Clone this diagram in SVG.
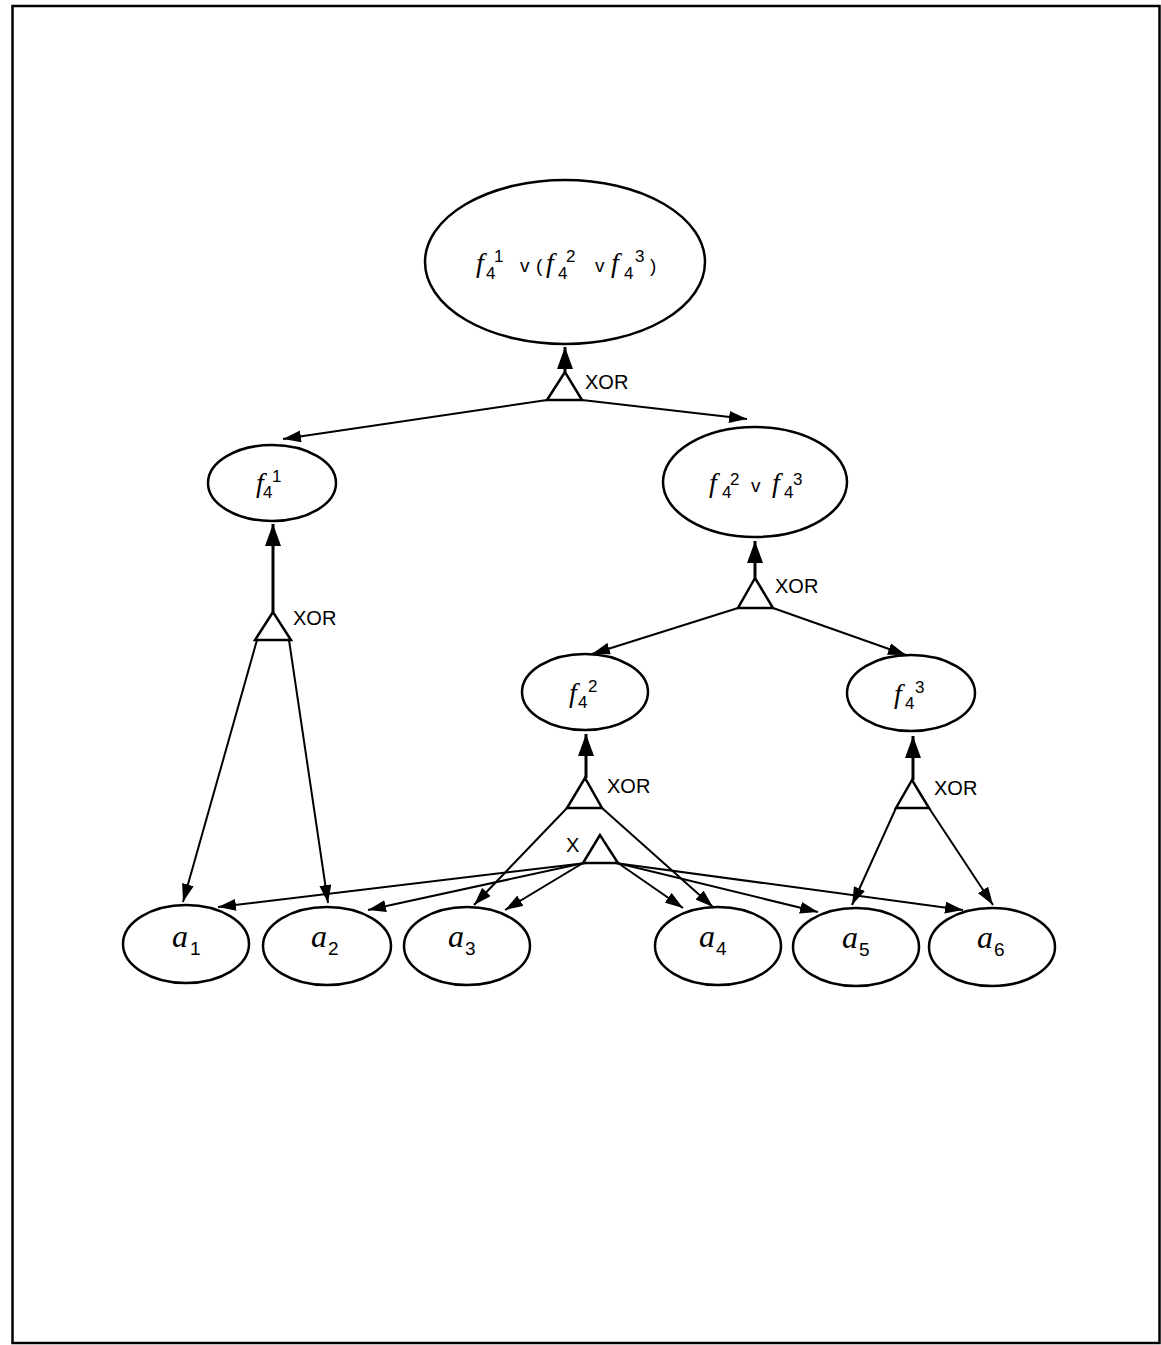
<svg xmlns="http://www.w3.org/2000/svg" width="1161" height="1345" viewBox="0 0 1161 1345">
<style>
.node{fill:#fff;stroke:#000;stroke-width:2.5}
.gate{fill:#fff;stroke:#000;stroke-width:2.5;stroke-linejoin:miter}
.edge{fill:none;stroke:#000;stroke-width:2}
.up{fill:none;stroke:#000;stroke-width:3}
.it{font-family:"Liberation Serif",serif;font-style:italic;fill:#000}
.num{font-family:"Liberation Sans",sans-serif;fill:#000}
.lbl{font-family:"Liberation Sans",sans-serif;font-size:20px;fill:#000}
</style>
<defs>
<marker id="ah" markerUnits="userSpaceOnUse" markerWidth="18" markerHeight="12" refX="18" refY="6" orient="auto">
<path d="M0,0 L18,6 L0,12 z" fill="#000"/>
</marker>
<marker id="ahu" markerUnits="userSpaceOnUse" markerWidth="22" markerHeight="16" refX="22" refY="8" orient="auto">
<path d="M0,0 L22,8 L0,16 z" fill="#000"/>
</marker>
</defs>
<rect x="12.5" y="6" width="1147" height="1337" fill="#fff" stroke="#000" stroke-width="2.5"/>

<g id="connectors">
<line class="up" x1="565" y1="372" x2="565" y2="347" marker-end="url(#ahu)"/>
<line class="up" x1="273" y1="612" x2="273" y2="524" marker-end="url(#ahu)"/>
<line class="up" x1="755" y1="578" x2="755" y2="541" marker-end="url(#ahu)"/>
<line class="up" x1="586" y1="778" x2="586" y2="734" marker-end="url(#ahu)"/>
<line class="up" x1="913" y1="780" x2="913" y2="736" marker-end="url(#ahu)"/>

<line class="edge" x1="547" y1="400" x2="283" y2="439" marker-end="url(#ah)"/>
<line class="edge" x1="582" y1="400" x2="747" y2="419" marker-end="url(#ah)"/>

<line class="edge" x1="257" y1="640" x2="183" y2="902" marker-end="url(#ah)"/>
<line class="edge" x1="289" y1="640" x2="328" y2="903" marker-end="url(#ah)"/>

<line class="edge" x1="738" y1="608" x2="592" y2="654" marker-end="url(#ah)"/>
<line class="edge" x1="773" y1="608" x2="906" y2="655" marker-end="url(#ah)"/>

<line class="edge" x1="567" y1="808" x2="474" y2="905" marker-end="url(#ah)"/>
<line class="edge" x1="602" y1="808" x2="713" y2="907" marker-end="url(#ah)"/>

<line class="edge" x1="896" y1="808" x2="852" y2="905" marker-end="url(#ah)"/>
<line class="edge" x1="929" y1="808" x2="993" y2="905" marker-end="url(#ah)"/>

<line class="edge" x1="586" y1="863" x2="218" y2="907" marker-end="url(#ah)"/>
<line class="edge" x1="584" y1="863" x2="368" y2="910" marker-end="url(#ah)"/>
<line class="edge" x1="583" y1="863" x2="505" y2="910" marker-end="url(#ah)"/>
<line class="edge" x1="618" y1="863" x2="683" y2="908" marker-end="url(#ah)"/>
<line class="edge" x1="617" y1="863" x2="818" y2="912" marker-end="url(#ah)"/>
<line class="edge" x1="615" y1="863" x2="963" y2="910" marker-end="url(#ah)"/>
</g>

<g id="gate-top">
<path class="gate" d="M565,372 L547,400 L582,400 z"/>
<text class="lbl" x="585" y="389">XOR</text>
</g>
<g id="gate-f41">
<path class="gate" d="M273,612 L255,640 L291,640 z"/>
<text class="lbl" x="293" y="625">XOR</text>
</g>
<g id="gate-f42f43">
<path class="gate" d="M755,578 L738,608 L773,608 z"/>
<text class="lbl" x="775" y="593">XOR</text>
</g>
<g id="gate-f42">
<path class="gate" d="M585,778 L567,808 L602,808 z"/>
<text class="lbl" x="607" y="793">XOR</text>
</g>
<g id="gate-f43">
<path class="gate" d="M912,780 L896,808 L929,808 z"/>
<text class="lbl" x="934" y="795">XOR</text>
</g>
<g id="gate-x">
<path class="gate" d="M600,835 L583,863 L618,863 z"/>
<text class="lbl" x="566" y="852">X</text>
</g>

<g id="node-root">
<ellipse class="node" cx="565" cy="262" rx="140" ry="82"/>
<text class="it" font-size="28" x="476" y="272">f</text>
<text class="num" font-size="17" x="486" y="279">4</text>
<text class="num" font-size="17" x="494" y="262">1</text>
<text class="num" font-size="19" x="520" y="272">v</text>
<text class="num" font-size="19" x="536" y="272">(</text>
<text class="it" font-size="28" x="546" y="272">f</text>
<text class="num" font-size="17" x="558" y="279">4</text>
<text class="num" font-size="17" x="566" y="262">2</text>
<text class="num" font-size="19" x="595" y="272">v</text>
<text class="it" font-size="28" x="611" y="272">f</text>
<text class="num" font-size="17" x="624" y="279">4</text>
<text class="num" font-size="17" x="635" y="262">3</text>
<text class="num" font-size="19" x="650" y="272">)</text>
</g>

<g id="node-f41">
<ellipse class="node" cx="272" cy="483" rx="64" ry="38"/>
<text class="it" font-size="28" x="256" y="492">f</text>
<text class="num" font-size="17" x="263" y="498">4</text>
<text class="num" font-size="17" x="272" y="482">1</text>
</g>

<g id="node-f42f43">
<ellipse class="node" cx="755" cy="482" rx="92" ry="55"/>
<text class="it" font-size="28" x="709" y="492">f</text>
<text class="num" font-size="17" x="722" y="498">4</text>
<text class="num" font-size="17" x="730" y="485">2</text>
<text class="num" font-size="19" x="751" y="492">v</text>
<text class="it" font-size="28" x="772" y="492">f</text>
<text class="num" font-size="17" x="784" y="498">4</text>
<text class="num" font-size="17" x="793" y="485">3</text>
</g>

<g id="node-f42">
<ellipse class="node" cx="585" cy="692" rx="63" ry="38"/>
<text class="it" font-size="28" x="569" y="702">f</text>
<text class="num" font-size="17" x="578" y="708">4</text>
<text class="num" font-size="17" x="588" y="692">2</text>
</g>

<g id="node-f43">
<ellipse class="node" cx="911" cy="693" rx="64" ry="38"/>
<text class="it" font-size="28" x="894" y="703">f</text>
<text class="num" font-size="17" x="905" y="709">4</text>
<text class="num" font-size="17" x="915" y="693">3</text>
</g>

<g id="node-a1">
<ellipse class="node" cx="186" cy="944" rx="63" ry="39"/>
<text class="it" font-size="32" x="172" y="947">a</text>
<text class="num" font-size="19" x="190" y="955">1</text>
</g>
<g id="node-a2">
<ellipse class="node" cx="327" cy="946" rx="64" ry="39"/>
<text class="it" font-size="32" x="311" y="947">a</text>
<text class="num" font-size="19" x="328" y="955">2</text>
</g>
<g id="node-a3">
<ellipse class="node" cx="467" cy="946" rx="63" ry="39"/>
<text class="it" font-size="32" x="448" y="947">a</text>
<text class="num" font-size="19" x="465" y="955">3</text>
</g>
<g id="node-a4">
<ellipse class="node" cx="718" cy="946" rx="63" ry="39"/>
<text class="it" font-size="32" x="699" y="947">a</text>
<text class="num" font-size="19" x="716" y="955">4</text>
</g>
<g id="node-a5">
<ellipse class="node" cx="856" cy="947" rx="63" ry="39"/>
<text class="it" font-size="32" x="842" y="948">a</text>
<text class="num" font-size="19" x="859" y="956">5</text>
</g>
<g id="node-a6">
<ellipse class="node" cx="992" cy="947" rx="63" ry="39"/>
<text class="it" font-size="32" x="977" y="948">a</text>
<text class="num" font-size="19" x="994" y="956">6</text>
</g>
</svg>
